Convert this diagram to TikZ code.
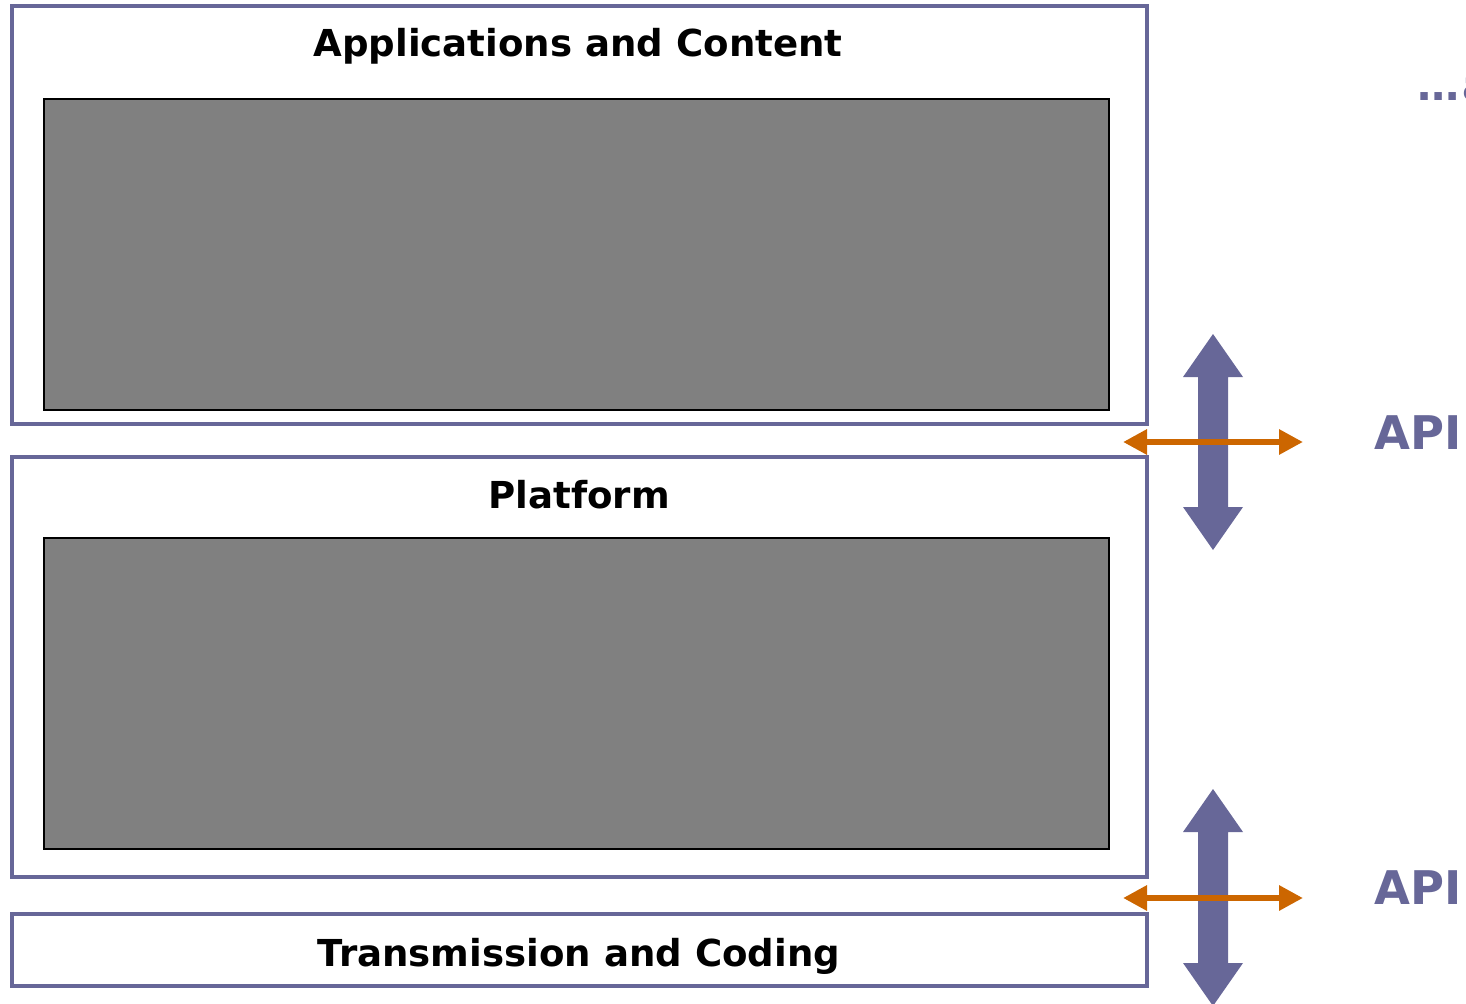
\documentclass[tikz,border=0pt]{standalone}
\usepackage{fontspec}
\setmainfont{DejaVu Sans}
\usepackage{tikz}
\usetikzlibrary{arrows.meta}
\definecolor{layerpurple}{HTML}{676798}
\definecolor{apiorange}{HTML}{CC6600}
\definecolor{panelgray}{HTML}{808080}

\newcommand{\fatarrow}[3]{% x, top tip, bottom tip
  \fill[layerpurple] (#1,#2) -- ++(30,43) -- ++(-15,0) -- (#1+15,#3-43)
    -- ++(15,0) -- (#1,#3) -- ++(-30,-43) -- ++(15,0) -- (#1-15,#2+43)
    -- ++(-15,0) -- cycle;}

\begin{document}
\begin{tikzpicture}[x=0.025cm, y=-0.025cm,
    layer/.style={draw=layerpurple, line width=2.85pt, fill=white,
                  minimum width=28.375cm, inner sep=0pt},
    panel/.style={draw=black, line width=1.4pt, fill=panelgray,
                  minimum width=26.625cm, minimum height=7.775cm, inner sep=0pt},
    title/.style={font=\fontsize{26.4}{30}\selectfont\bfseries, anchor=base},
    apilabel/.style={font=\fontsize{33}{38}\selectfont\bfseries,
                     text=layerpurple, anchor=base},
    apiarrow/.style={{Triangle[length=0.6cm,width=0.6cm]}-{Triangle[length=0.6cm,width=0.6cm]},
                     line width=4.6pt, apiorange}
  ]
    \useasboundingbox (0,0) rectangle (1466,1004);

    % the three layers
    \node[layer, minimum height=10.4375cm] (app) at (579.5,215.25) {};
    \node[layer, minimum height=10.5cm] (platform) at (579.5,667) {};
    \node[layer, minimum height=1.8cm] (trans) at (579.5,950) {};

    \node[panel] (apppanel) at (576.5,254.5) {};
    \node[panel] (platpanel) at (576.5,693.5) {};

    \node[title] (apptitle) at (578,57) {Applications and Content};
    \node[title] (plattitle) at (579,508) {Platform};
    \node[title] (transtitle) at (579,966) {Transmission and Coding};

    % interfaces between the layers
    \fatarrow{1213}{334}{550}
    \fatarrow{1213}{789}{1006}
    \coordinate (api1w) at (1123,442);
    \coordinate (api1e) at (1303,442);
    \coordinate (api2w) at (1123,898);
    \coordinate (api2e) at (1303,898);
    \draw[apiarrow] (api1w) -- (api1e);
    \draw[apiarrow] (api2w) -- (api2e);

    \node[apilabel] (api1) at (1418,449) {API};
    \node[apilabel] (api2) at (1418,904) {API};

    \node[font=\fontsize{30}{34}\selectfont\bfseries, text=layerpurple,
          anchor=base west, inner sep=0pt] (more) at (1417,101) {…\hspace{2pt}a};
\end{tikzpicture}
\end{document}
